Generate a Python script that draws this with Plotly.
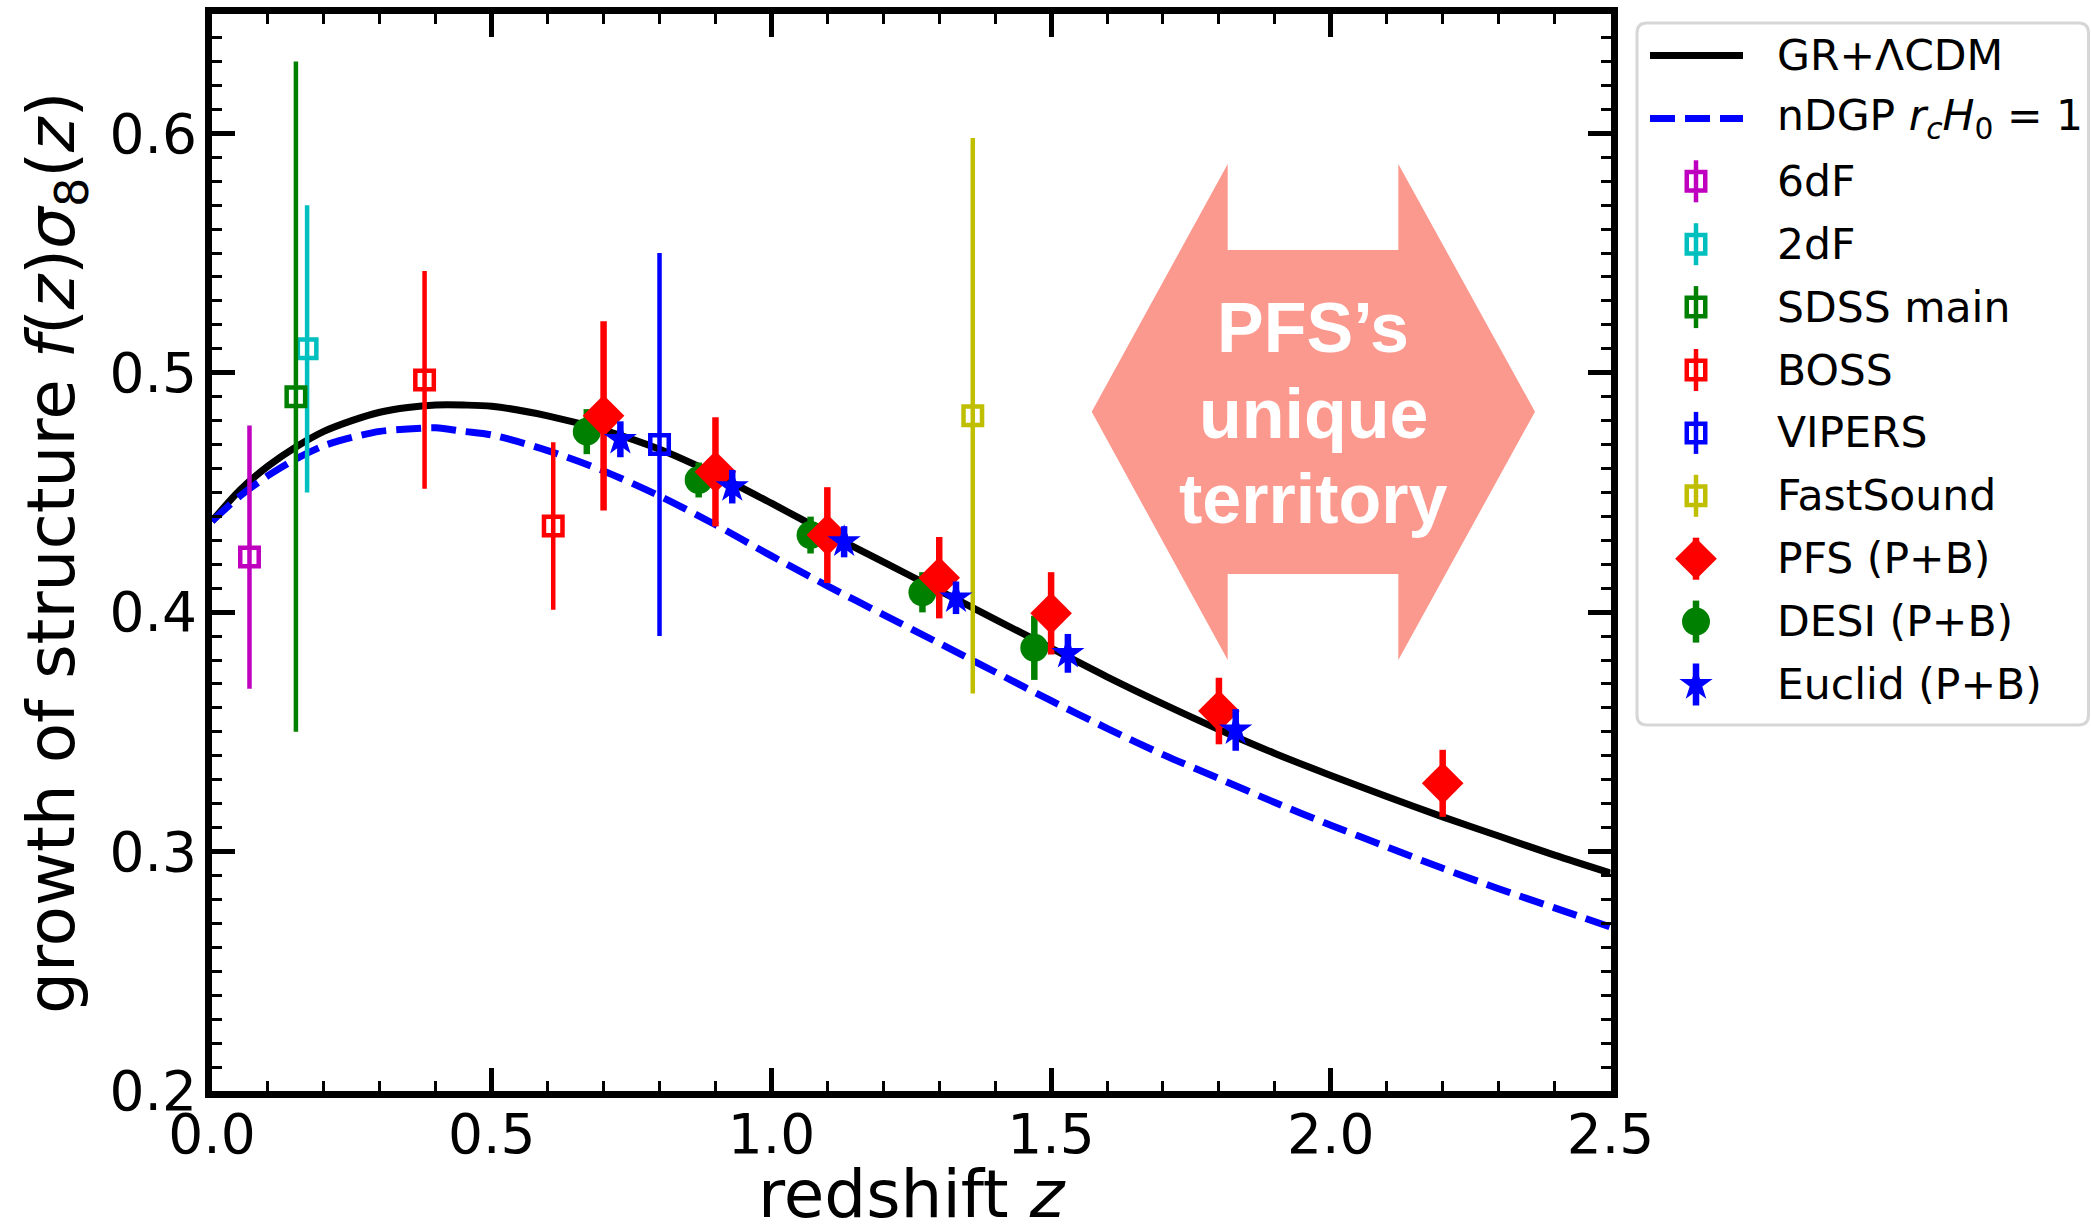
import plotly.graph_objects as go

W, H = 2091, 1225

# ---------------- data ----------------
z_theory = [0.0, 0.05, 0.1, 0.15, 0.2, 0.25, 0.3, 0.35, 0.4, 0.45, 0.5, 0.6, 0.7, 0.8, 0.9,
            1.0, 1.1, 1.2, 1.3, 1.4, 1.5, 1.6, 1.7, 1.8, 1.9, 2.0, 2.1, 2.2, 2.3, 2.4, 2.5]
fs8_gr = [0.438, 0.451, 0.461, 0.469, 0.4755, 0.480, 0.4835, 0.4855, 0.4865, 0.4865, 0.486,
          0.482, 0.476, 0.468, 0.4575, 0.4455, 0.433, 0.421, 0.409, 0.397, 0.385, 0.373,
          0.3617, 0.351, 0.341, 0.3318, 0.323, 0.3145, 0.3065, 0.2985, 0.291]
fs8_ndgp = [0.438, 0.4485, 0.457, 0.464, 0.4695, 0.473, 0.4755, 0.4765, 0.477, 0.4755, 0.474,
            0.4675, 0.459, 0.4485, 0.4365, 0.4235, 0.411, 0.399, 0.387, 0.375, 0.363, 0.3515,
            0.3405, 0.3305, 0.3205, 0.311, 0.302, 0.293, 0.2845, 0.2765, 0.2685]

z_6df, fs8_6df, err_6df = [0.067], [0.423], [0.055]
z_2df, fs8_2df, err_2df = [0.17], [0.51], [0.06]
z_sdss, fs8_sdss, err_sdss = [0.15], [0.49], [0.14]
z_boss, fs8_boss, err_boss = [0.38, 0.61], [0.497, 0.436], [0.0455, 0.035]
z_vipers, fs8_vipers, err_vipers = [0.80], [0.47], [0.08]
z_fast, fs8_fast, err_fast = [1.36], [0.482], [0.116]

z_pfs = [0.7, 0.9, 1.1, 1.3, 1.5, 1.8, 2.2]
fs8_pfs = [0.482, 0.4586, 0.4322, 0.4144, 0.3995, 0.3587, 0.3285]
err_pfs = [0.0395, 0.0228, 0.020, 0.017, 0.0172, 0.0139, 0.014]

z_desi = [0.67, 0.87, 1.07, 1.27, 1.47]
fs8_desi = [0.4754, 0.4552, 0.4322, 0.4083, 0.3851]
err_desi = [0.0094, 0.0073, 0.0077, 0.0084, 0.0134]

z_euclid = [0.73, 0.93, 1.13, 1.33, 1.53, 1.83]
fs8_euclid = [0.4722, 0.4524, 0.4294, 0.406, 0.3828, 0.3508]
err_euclid = [0.0075, 0.007, 0.0065, 0.0068, 0.0081, 0.0087]

x_ticks = [0.0, 0.5, 1.0, 1.5, 2.0, 2.5]
x_ticklabels = ["0.0", "0.5", "1.0", "1.5", "2.0", "2.5"]
y_ticks = [0.2, 0.3, 0.4, 0.5, 0.6]
y_ticklabels = ["0.2", "0.3", "0.4", "0.5", "0.6"]

# arrow annotation outline (data units) and its text lines
arrow_z = [1.5726, 1.8157, 1.8157, 2.1207, 2.1207, 2.365, 2.1207, 2.1207, 1.8157, 1.8157]
arrow_f = [0.4837, 0.5872, 0.5513, 0.5513, 0.5872, 0.4837, 0.380, 0.4159, 0.4159, 0.380]
arrow_lines = ["PFS’s", "unique", "territory"]
arrow_line_f = [0.5188, 0.4828, 0.4473]

# ---------------- styling ----------------
FONT = "DejaVu Sans"
C_M, C_C, C_G, C_R, C_B, C_Y = "#BF00BF", "#00BFBF", "#008000", "#FF0000", "#0000FF", "#BFBF00"
SALMON = "#FC998E"

fig = go.Figure()

# theory curves
fig.add_trace(go.Scatter(x=z_theory, y=fs8_gr, mode="lines",
                         line=dict(color="black", width=7, shape="spline", smoothing=0.8),
                         showlegend=False, hoverinfo="skip"))
fig.add_trace(go.Scatter(x=z_theory, y=fs8_ndgp, mode="lines",
                         line=dict(color=C_B, width=7, dash="25px,10px", shape="spline", smoothing=0.8),
                         showlegend=False, hoverinfo="skip"))


def old_data(x, y, e, color):
    return go.Scatter(x=x, y=y, mode="markers",
                      marker=dict(symbol="square-open", size=18.5, color=color,
                                  line=dict(width=4.5, color=color)),
                      error_y=dict(type="data", array=e, symmetric=True, width=0,
                                   thickness=4.5, color=color),
                      showlegend=False, hoverinfo="skip")


old_sets = [
    (z_6df, fs8_6df, err_6df, C_M),
    (z_2df, fs8_2df, err_2df, C_C),
    (z_sdss, fs8_sdss, err_sdss, C_G),
    (z_boss, fs8_boss, err_boss, C_R),
    (z_vipers, fs8_vipers, err_vipers, C_B),
    (z_fast, fs8_fast, err_fast, C_Y),
]
for s in old_sets:
    fig.add_trace(old_data(*s))


def new_data(x, y, e, color, symbol, size):
    return go.Scatter(x=x, y=y, mode="markers",
                      marker=dict(symbol=symbol, size=size, color=color, line=dict(width=0)),
                      error_y=dict(type="data", array=e, symmetric=True, width=0,
                                   thickness=6.5, color=color),
                      showlegend=False, hoverinfo="skip")


STAR_SIZE = 25
fig.add_trace(new_data(z_desi, fs8_desi, err_desi, C_G, "circle", 28))
fig.add_trace(new_data(z_pfs, fs8_pfs, err_pfs, C_R, "diamond", 32))
fig.add_trace(new_data(z_euclid, fs8_euclid, err_euclid, C_B, "star", STAR_SIZE))

# arrow shape
path = "M " + " L ".join(f"{a},{b}" for a, b in zip(arrow_z, arrow_f)) + " Z"
shapes = [dict(type="path", path=path, xref="x", yref="y", fillcolor=SALMON,
               line=dict(width=0), layer="below")]
annotations = []
arrow_cx = (arrow_z[1] + arrow_z[3]) / 2
for txt, fy in zip(arrow_lines, arrow_line_f):
    annotations.append(dict(x=arrow_cx, y=fy, xref="x", yref="y",
                            text="<b>" + txt + "</b>", showarrow=False,
                            font=dict(family="Liberation Sans", size=70, color="white"),
                            xanchor="center", yanchor="middle"))

# axis titles (pixel positioned on paper = full figure since margins are 0)
annotations.append(dict(x=912 / W, y=1 - 1194 / H, xref="paper", yref="paper",
                        text="redshift <i>z</i>", showarrow=False,
                        font=dict(family=FONT, size=66, color="black"),
                        xanchor="center", yanchor="middle"))
annotations.append(dict(x=56 / W, y=1 - 553 / H, xref="paper", yref="paper",
                        text="growth of structure <i>f</i>(<i>z</i>)<i>σ</i><sub>8</sub>(<i>z</i>)",
                        showarrow=False, textangle=-90,
                        font=dict(family=FONT, size=66, color="black"),
                        xanchor="center", yanchor="middle"))

# ---------------- custom legend (pixel axes x2/y2) ----------------
LX0, LX1, LY0, LY1, R = 1637, 2088.5, 23, 725, 10
shapes.append(dict(type="path", xref="x2", yref="y2", layer="below",
                   path=(f"M {LX0+R},{LY0} L {LX1-R},{LY0} Q {LX1},{LY0} {LX1},{LY0+R} "
                         f"L {LX1},{LY1-R} Q {LX1},{LY1} {LX1-R},{LY1} L {LX0+R},{LY1} "
                         f"Q {LX0},{LY1} {LX0},{LY1-R} L {LX0},{LY0+R} Q {LX0},{LY0} {LX0+R},{LY0} Z"),
                   fillcolor="white", line=dict(color="#D6D6D6", width=3)))

leg_labels = ["GR+ΛCDM", "nDGP <i>r</i><sub><i>c</i></sub><i>H</i><sub>0</sub> = 1", "6dF", "2dF",
              "SDSS main", "BOSS", "VIPERS", "FastSound", "PFS (P+B)", "DESI (P+B)", "Euclid (P+B)"]
row0, drow = 55.5, 62.9
sym_x, line_x0, line_x1, text_x = 1696, 1650, 1743, 1775
rows = [row0 + i * drow for i in range(len(leg_labels))]

fig.add_trace(go.Scatter(x=[line_x0, line_x1], y=[rows[0]] * 2, mode="lines", xaxis="x2", yaxis="y2",
                         line=dict(color="black", width=7), showlegend=False, hoverinfo="skip"))
fig.add_trace(go.Scatter(x=[line_x0, line_x1], y=[rows[1]] * 2, mode="lines", xaxis="x2", yaxis="y2",
                         line=dict(color=C_B, width=7, dash="25px,10px"), showlegend=False, hoverinfo="skip"))
for i, s in enumerate(old_sets):
    t = old_data([sym_x], [rows[2 + i]], [21], s[3])
    t.update(xaxis="x2", yaxis="y2")
    fig.add_trace(t)
for j, (c, sym, sz) in enumerate([(C_R, "diamond", 32), (C_G, "circle", 28), (C_B, "star", STAR_SIZE)]):
    t = new_data([sym_x], [rows[8 + j]], [21], c, sym, sz)
    t.update(xaxis="x2", yaxis="y2")
    fig.add_trace(t)
for lab, yy in zip(leg_labels, rows):
    annotations.append(dict(x=text_x, y=yy, xref="x2", yref="y2", text=lab, showarrow=False,
                            font=dict(family=FONT, size=42.5, color="black"),
                            xanchor="left", yanchor="middle"))

axis_common = dict(showline=True, linewidth=7, linecolor="black", mirror="allticks",
                   ticks="inside", ticklen=23, tickwidth=4.5, tickcolor="black",
                   showgrid=False, zeroline=False, automargin=False,
                   tickfont=dict(family=FONT, size=55, color="black"))

fig.update_layout(
    width=W, height=H,
    margin=dict(l=0, r=0, t=0, b=0, autoexpand=False),
    paper_bgcolor="white", plot_bgcolor="rgba(0,0,0,0)",
    showlegend=False,
    xaxis=dict(domain=[212 / W, 1610.5 / W], range=[0, 2.5], tickvals=x_ticks, ticktext=x_ticklabels,
               minor=dict(dtick=0.1, ticks="inside", ticklen=10, tickwidth=3, tickcolor="black"),
               anchor="y", ticklabelstandoff=-11, **axis_common),
    yaxis=dict(domain=[1 - 1091 / H, 1 - 13.6 / H], range=[0.2, 0.65], tickvals=y_ticks,
               ticktext=y_ticklabels,
               minor=dict(dtick=0.01, ticks="inside", ticklen=10, tickwidth=3, tickcolor="black"),
               anchor="x", ticklabelstandoff=-3, **axis_common),
    xaxis2=dict(domain=[1625 / W, 1.0], range=[1625, W], visible=False, anchor="y2",
                fixedrange=True, automargin=False),
    yaxis2=dict(domain=[0, 1], range=[H, 0], visible=False, anchor="x2",
                fixedrange=True, automargin=False),
    shapes=shapes,
    annotations=annotations,
)

fig.write_html("out.html", config={"displayModeBar": False},
               post_script="document.body.style.margin='0px';document.body.style.overflow='hidden';")
